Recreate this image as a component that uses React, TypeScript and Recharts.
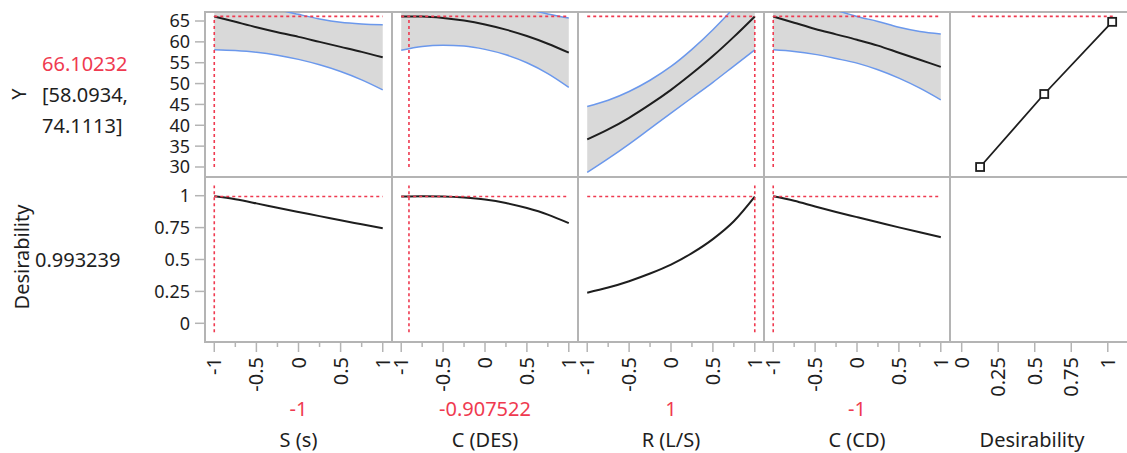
import React from 'react';
import {
  ComposedChart,
  Line,
  Area,
  XAxis,
  YAxis,
  ReferenceLine,
  ReferenceArea,
} from 'recharts';

const FONT = '"Noto Sans", "Open Sans", sans-serif';
const FS = 20;
const FS_Y = 18;
const GRID = '#b4b4b4';
const RED = '#ef3a50';
const BLUE = '#6b98ec';
const BAND = '#d9d9d9';
const INK = '#1e1e1e';

// factor settings, coded -1..1
const levels = [-1, -0.75, -0.5, -0.25, 0, 0.25, 0.5, 0.75, 1];

// S (s)
const sPred = [66.1, 64.8, 63.5, 62.3, 61.2, 60.0, 58.8, 57.6, 56.3];
const sLower = [58.1, 57.9, 57.5, 56.8, 55.8, 54.5, 52.9, 50.9, 48.5];
const sUpper = [74.1, 71.7, 69.5, 67.8, 66.6, 65.5, 64.7, 64.3, 64.1];
const sDesir = [0.995, 0.972, 0.94, 0.905, 0.872, 0.84, 0.807, 0.776, 0.745];

// C (DES)
const desPred = [66.1, 66.07, 65.74, 65.11, 64.17, 62.93, 61.39, 59.55, 57.4];
const desLower = [58.0, 58.9, 59.2, 59.0, 58.2, 56.9, 55.0, 52.4, 49.1];
const desUpper = [74.2, 73.2, 72.3, 71.2, 70.1, 69.0, 67.8, 66.7, 65.7];
const desDesir = [0.993, 0.995, 0.993, 0.985, 0.97, 0.943, 0.903, 0.852, 0.785];

// R (L/S)
const rPred = [36.6, 39.0, 41.8, 45.0, 48.5, 52.4, 56.6, 61.2, 66.1];
const rLower = [28.7, 32.0, 35.5, 39.2, 42.9, 46.6, 50.3, 54.2, 58.1];
const rUpper = [44.5, 46.0, 48.1, 50.8, 54.1, 58.2, 62.9, 68.2, 74.1];
const rDesir = [0.24, 0.28, 0.33, 0.39, 0.46, 0.55, 0.66, 0.8, 0.993];

// C (CD)
const cdPred = [66.1, 64.6, 63.1, 61.8, 60.5, 59.1, 57.4, 55.7, 54.0];
const cdLower = [58.1, 57.7, 57.0, 56.0, 54.9, 53.3, 51.3, 48.9, 46.1];
const cdUpper = [74.1, 71.5, 69.2, 67.6, 66.1, 64.9, 63.5, 62.5, 61.9];
const cdDesir = [0.995, 0.96, 0.915, 0.872, 0.832, 0.792, 0.752, 0.713, 0.675];

// desirability function for Y
const desirKnotsD = [0.126, 0.565, 1.03];
const desirKnotsY = [30, 47.5, 64.8];

const factorNames = ['S (s)', 'C (DES)', 'R (L/S)', 'C (CD)'];
const currentValues = [-1, -0.907522, 1, -1];
const currentLabels = ['-1', '-0.907522', '1', '-1'];

const yTicks = [30, 35, 40, 45, 50, 55, 60, 65];
const dTicks = [0, 0.25, 0.5, 0.75, 1];
const factorTicks = [-1, -0.75, -0.5, -0.25, 0, 0.25, 0.5, 0.75, 1];
const factorMajor = [-1, -0.5, 0, 0.5, 1];

const predicted = 66.10232;
const ciLabel = ['[58.0934,', '74.1113]'];
const overallDesir = 0.993239;

const Y_DOMAIN = [27.6, 67.16];
const D_DOMAIN = [-0.1466, 1.1466];
const F_DOMAIN = [-1.11, 1.11];
const DES_DOMAIN = [-0.08, 1.2];

const lefts = [205, 392, 578, 764, 950];
const widths = [187, 186, 186, 186, 187];
const TOP1 = 12;
const TOP2 = 177;
const ROW_H = 165;
const AXIS_H = 80;
const P = 2;
const PT = 12; // room above the top row for the "65" label
const PX = 18; // side room in the bottom row for rotated tick labels

const profiles = [
  { pred: sPred, lo: sLower, hi: sUpper, d: sDesir },
  { pred: desPred, lo: desLower, hi: desUpper, d: desDesir },
  { pred: rPred, lo: rLower, hi: rUpper, d: rDesir },
  { pred: cdPred, lo: cdLower, hi: cdUpper, d: cdDesir },
];

const buildRows = (i: number) =>
  levels.map((x, k) => ({
    x,
    y: profiles[i].pred[k],
    lo: profiles[i].lo[k],
    hi: profiles[i].hi[k],
    band: [profiles[i].lo[k], profiles[i].hi[k]],
    d: profiles[i].d[k],
  }));

const desirRows = desirKnotsD.map((d, k) => ({ d, y: desirKnotsY[k] }));

const XTick = (props: any) => {
  const { x, y, payload, majors } = props;
  const v = payload.value;
  const isMajor = majors.includes(v);
  const ty = y + 15;
  return (
    <g>
      <line x1={x} x2={x} y1={y} y2={y + (isMajor ? 10 : 5)} stroke={GRID} strokeWidth={1.5} />
      {isMajor && (
        <text
          x={x}
          y={ty}
          dy="0.35em"
          textAnchor="end"
          transform={`rotate(-90 ${x} ${ty})`}
          fontSize={FS}
          fontFamily={FONT}
          fill={INK}
        >
          {String(v)}
        </text>
      )}
    </g>
  );
};

const SquareDot = (props: any) => {
  const { cx, cy } = props;
  return <rect x={cx - 4} y={cy - 4} width={8} height={8} fill="#fff" stroke={INK} strokeWidth={1.8} />;
};

const yTickStyle = { fontSize: FS_Y, fill: INK, fontFamily: FONT };

function TopPanel({ i }: { i: number }) {
  const first = i === 0;
  const rows = buildRows(i);
  const cx = currentValues[i];
  return (
    <div style={{ position: 'absolute', left: first ? 0 : lefts[i] - P, top: TOP1 - PT }}>
      <ComposedChart
        width={first ? lefts[i] + widths[i] + P : widths[i] + 2 * P}
        height={ROW_H + PT + P}
        data={rows}
        margin={{ top: PT, right: P, bottom: P, left: first ? 0 : P }}
      >
        <XAxis type="number" dataKey="x" domain={F_DOMAIN} allowDataOverflow hide />
        <YAxis
          type="number"
          domain={Y_DOMAIN}
          allowDataOverflow
          hide={!first}
          width={first ? lefts[0] : 0}
          ticks={yTicks}
          interval={0}
          tickSize={10}
          tickMargin={5}
          tickLine={{ stroke: GRID, strokeWidth: 1.5 }}
          axisLine={false}
          tick={yTickStyle}
        />
        <Area type="monotone" dataKey="band" fill={BAND} fillOpacity={1} stroke="none" isAnimationActive={false} />
        <Line type="monotone" dataKey="lo" stroke={BLUE} strokeWidth={1.5} dot={false} isAnimationActive={false} />
        <Line type="monotone" dataKey="hi" stroke={BLUE} strokeWidth={1.5} dot={false} isAnimationActive={false} />
        <Line type="monotone" dataKey="y" stroke={INK} strokeWidth={2} dot={false} isAnimationActive={false} />
        <ReferenceLine
          segment={[{ x: -1, y: predicted }, { x: 1, y: predicted }]}
          stroke={RED}
          strokeWidth={1.6}
          strokeDasharray="3 3"
          ifOverflow="visible"
        />
        <ReferenceLine
          segment={[{ x: cx, y: 30 }, { x: cx, y: predicted }]}
          stroke={RED}
          strokeWidth={1.6}
          strokeDasharray="3 3"
          ifOverflow="visible"
        />
        <ReferenceArea
          x1={F_DOMAIN[0]}
          x2={F_DOMAIN[1]}
          y1={Y_DOMAIN[0]}
          y2={Y_DOMAIN[1]}
          fill="none"
          stroke={GRID}
          strokeWidth={2}
          ifOverflow="visible"
        />
      </ComposedChart>
    </div>
  );
}

function BottomPanel({ i }: { i: number }) {
  const first = i === 0;
  const rows = buildRows(i);
  const cx = currentValues[i];
  return (
    <div style={{ position: 'absolute', left: first ? 0 : lefts[i] - PX, top: TOP2 - P }}>
      <ComposedChart
        width={first ? lefts[i] + widths[i] + PX : widths[i] + 2 * PX}
        height={ROW_H + P + AXIS_H}
        data={rows}
        margin={{ top: P, right: PX, bottom: 0, left: first ? 0 : PX }}
      >
        <XAxis
          type="number"
          dataKey="x"
          domain={F_DOMAIN}
          allowDataOverflow
          ticks={factorTicks}
          interval={0}
          height={AXIS_H}
          tickSize={0}
          tickMargin={0}
          tickLine={false}
          axisLine={false}
          tick={<XTick majors={factorMajor} />}
        />
        <YAxis
          type="number"
          domain={D_DOMAIN}
          allowDataOverflow
          hide={!first}
          width={first ? lefts[0] : 0}
          ticks={dTicks}
          interval={0}
          tickSize={10}
          tickMargin={5}
          tickLine={{ stroke: GRID, strokeWidth: 1.5 }}
          axisLine={false}
          tick={yTickStyle}
        />
        <Line type="monotone" dataKey="d" stroke={INK} strokeWidth={2} dot={false} isAnimationActive={false} />
        <ReferenceLine
          segment={[{ x: -1, y: overallDesir }, { x: 1, y: overallDesir }]}
          stroke={RED}
          strokeWidth={1.6}
          strokeDasharray="3 3"
          ifOverflow="visible"
        />
        <ReferenceLine
          segment={[{ x: cx, y: -0.07 }, { x: cx, y: 1.08 }]}
          stroke={RED}
          strokeWidth={1.6}
          strokeDasharray="3 3"
          ifOverflow="visible"
        />
        <ReferenceArea
          x1={F_DOMAIN[0]}
          x2={F_DOMAIN[1]}
          y1={D_DOMAIN[0]}
          y2={D_DOMAIN[1]}
          fill="none"
          stroke={GRID}
          strokeWidth={2}
          ifOverflow="visible"
        />
      </ComposedChart>
    </div>
  );
}

function DesirabilityColumn() {
  const w = widths[4];
  return (
    <>
      <div style={{ position: 'absolute', left: lefts[4] - P, top: TOP1 - P }}>
        <ComposedChart width={w + 2 * P} height={ROW_H + 2 * P} data={desirRows} margin={{ top: P, right: P, bottom: P, left: P }}>
          <XAxis type="number" dataKey="d" domain={DES_DOMAIN} allowDataOverflow hide />
          <YAxis type="number" domain={Y_DOMAIN} allowDataOverflow hide width={0} />
          <ReferenceLine
            segment={[{ x: 0.069, y: predicted }, { x: 1.054, y: predicted }]}
            stroke={RED}
            strokeWidth={1.6}
            strokeDasharray="3 3"
            ifOverflow="visible"
          />
          <Line
            type="linear"
            dataKey="y"
            stroke={INK}
            strokeWidth={1.8}
            dot={<SquareDot />}
            isAnimationActive={false}
          />
          <ReferenceArea
            x1={DES_DOMAIN[0]}
            x2={DES_DOMAIN[1]}
            y1={Y_DOMAIN[0]}
            y2={Y_DOMAIN[1]}
            fill="none"
            stroke={GRID}
            strokeWidth={2}
            ifOverflow="visible"
          />
        </ComposedChart>
      </div>
      <div style={{ position: 'absolute', left: lefts[4] - PX, top: TOP2 - P }}>
        <ComposedChart width={w + 2 * PX} height={ROW_H + P + AXIS_H} data={desirRows} margin={{ top: P, right: PX, bottom: 0, left: PX }}>
          <XAxis
            type="number"
            dataKey="d"
            domain={DES_DOMAIN}
            allowDataOverflow
            ticks={dTicks}
            interval={0}
            height={AXIS_H}
            tickSize={0}
            tickMargin={0}
            tickLine={false}
            axisLine={false}
            tick={<XTick majors={dTicks} />}
          />
          <YAxis type="number" domain={D_DOMAIN} allowDataOverflow hide width={0} />
          <ReferenceArea
            x1={DES_DOMAIN[0]}
            x2={DES_DOMAIN[1]}
            y1={D_DOMAIN[0]}
            y2={D_DOMAIN[1]}
            fill="none"
            stroke={GRID}
            strokeWidth={2}
            ifOverflow="visible"
          />
        </ComposedChart>
      </div>
    </>
  );
}

const textBase: React.CSSProperties = {
  position: 'absolute',
  fontFamily: FONT,
  fontSize: FS,
  lineHeight: 1,
  color: INK,
  whiteSpace: 'nowrap',
};

const centered = (x: number, y: number, extra: React.CSSProperties = {}): React.CSSProperties => ({
  ...textBase,
  left: x,
  top: y,
  transform: 'translate(-50%, -50%)',
  ...extra,
});

const leftMid = (x: number, y: number, extra: React.CSSProperties = {}): React.CSSProperties => ({
  ...textBase,
  left: x,
  top: y,
  transform: 'translateY(-50%)',
  ...extra,
});

export default function App() {
  const centers = [298.5, 485, 671, 857];
  return (
    <div
      style={{
        position: 'absolute',
        left: 0,
        top: 0,
        width: 1127,
        height: 453,
        overflow: 'hidden',
        background: '#fff',
      }}
    >
      {[0, 1, 2, 3].map((i) => (
        <TopPanel key={`t${i}`} i={i} />
      ))}
      {[0, 1, 2, 3].map((i) => (
        <BottomPanel key={`b${i}`} i={i} />
      ))}
      <DesirabilityColumn />

      <div style={centered(19, 94, { transform: 'translate(-50%, -50%) rotate(-90deg)' })}>Y</div>
      <div style={leftMid(42, 64, { color: RED })}>{predicted.toString()}</div>
      <div style={leftMid(42, 95)}>{ciLabel[0]}</div>
      <div style={leftMid(42, 126)}>{ciLabel[1]}</div>

      <div style={centered(22, 257, { transform: 'translate(-50%, -50%) rotate(-90deg)' })}>Desirability</div>
      <div style={leftMid(35, 260)}>{overallDesir.toString()}</div>

      {factorNames.map((name, i) => (
        <React.Fragment key={name}>
          <div style={centered(centers[i], 409, { color: RED })}>{currentLabels[i]}</div>
          <div style={centered(centers[i], 440)}>{name}</div>
        </React.Fragment>
      ))}
      <div style={centered(1032, 440)}>Desirability</div>
    </div>
  );
}
